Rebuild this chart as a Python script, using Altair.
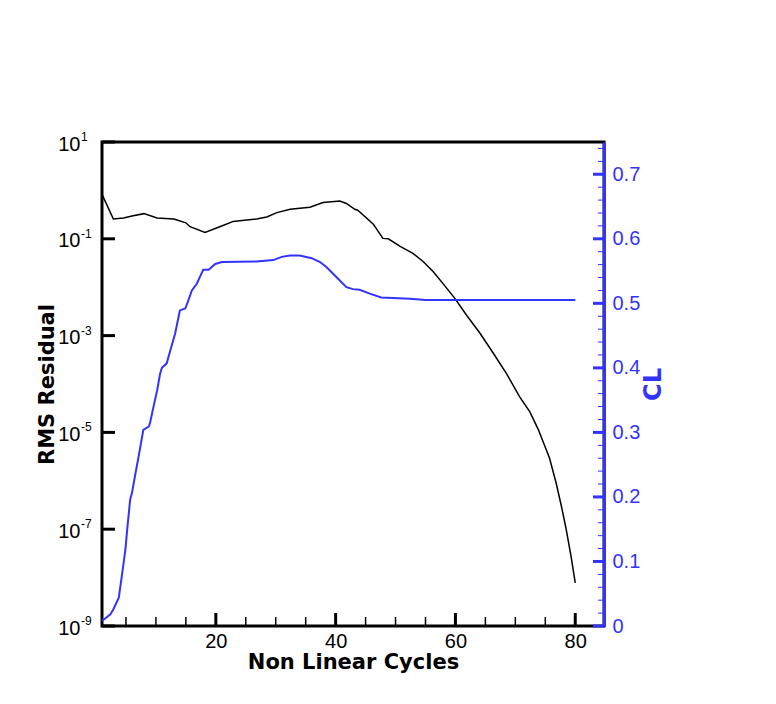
import altair as alt
import pandas as pd

# ---- data ----
cycles_rms = [1, 2.9, 4.6, 6, 8, 10.2, 13, 15, 15.7, 18.2, 21.3, 22.9, 26.8, 28.5, 30.2,
              32.4, 35.7, 37.9, 40.7, 41.8, 43.2, 43.7, 46.3, 47.9, 48.8, 50.7, 52.9, 54.6,
              56.3, 57.9, 59.9, 61.8, 64.1, 66.3, 68.5, 70.7, 72.4, 73.8, 75.7, 76.8, 77.7,
              78.5, 79.3, 80]
rms = [0.83, 0.257, 0.269, 0.295, 0.331, 0.269, 0.257, 0.214, 0.178, 0.135, 0.191, 0.229,
       0.257, 0.282, 0.347, 0.407, 0.447, 0.562, 0.603, 0.537, 0.407, 0.389, 0.200, 0.102,
       0.100, 0.0708, 0.0501, 0.0339, 0.0209, 0.0120, 5.89e-3, 2.69e-3, 1.12e-3, 4.37e-4,
       1.66e-4, 5.50e-5, 2.69e-5, 1.17e-5, 2.95e-6, 9.12e-7, 2.95e-7, 9.77e-8, 2.75e-8, 7.8e-9]

cycles_cl = [1.0, 1.3, 2.4, 2.9, 3.8, 4.3, 4.9, 5.2, 5.7, 6.0, 6.5, 7.1, 7.9, 8.8, 9.0, 9.6,
             10.2, 10.7, 11.0, 11.8, 12.4, 13.2, 14.0, 14.9, 15.2, 16.0, 16.8, 17.7, 17.9,
             18.8, 19.9, 21.0, 26.8, 29.6, 31.0, 32.4, 34.0, 36.0, 37.4, 38.5, 40.2, 41.8,
             42.9, 44.0, 45.7, 47.6, 52.4, 55.0, 80.0]
cl = [0.008, 0.010, 0.018, 0.026, 0.044, 0.077, 0.118, 0.149, 0.196, 0.206, 0.232, 0.262,
      0.304, 0.309, 0.314, 0.340, 0.365, 0.391, 0.400, 0.407, 0.427, 0.453, 0.489, 0.492,
      0.499, 0.520, 0.530, 0.548, 0.552, 0.552, 0.561, 0.564, 0.565, 0.567, 0.572, 0.574,
      0.574, 0.570, 0.564, 0.556, 0.540, 0.525, 0.522, 0.521, 0.515, 0.509, 0.507, 0.505,
      0.505]

x_major = [20, 40, 60, 80]
x_minor = [5, 10, 15, 25, 30, 35, 45, 50, 55, 65, 70, 75]
left_exps = [1, -1, -3, -5, -7, -9]
left_ticks = [10.0 ** e for e in left_exps]
cl_major = [0, 0.1, 0.2, 0.3, 0.4, 0.5, 0.6, 0.7]
cl_minor = [0.02, 0.04, 0.06, 0.08, 0.12, 0.14, 0.16, 0.18, 0.22, 0.24, 0.26, 0.28,
            0.32, 0.34, 0.36, 0.38, 0.42, 0.44, 0.46, 0.48, 0.52, 0.54, 0.56, 0.58,
            0.62, 0.64, 0.66, 0.68, 0.72, 0.74]

W, H = 502, 484
BLUE = "#3333ff"
LABEL_FONT = "Liberation Sans"
TITLE_FONT = "DejaVu Sans"

df_rms = pd.DataFrame({"cycle": cycles_rms, "rms": rms})
df_cl = pd.DataFrame({"cycle": cycles_cl, "cl": cl})
df_exp = pd.DataFrame({"v": left_ticks, "e": [str(e) for e in left_exps]})

xscale = alt.Scale(domain=[1, 84.8], nice=False, zero=False)
yl = alt.Scale(type="log", domain=[1e-9, 10], nice=False)
yr = alt.Scale(domain=[0, 0.75], nice=False, zero=False)

black = alt.Chart(df_rms).mark_line(color="black", strokeWidth=1.5).encode(
    x=alt.X("cycle:Q", scale=xscale, axis=alt.Axis(
        values=x_major, title="Non Linear Cycles", tickSize=0, domain=False, grid=False,
        labelFont=LABEL_FONT, labelFontSize=20, labelColor="black", labelPadding=5,
        labelFlush=False, titleFont=TITLE_FONT, titleFontWeight="bold", titleFontSize=21,
        titleColor="black", titleBaseline="alphabetic", titleY=42)),
    y=alt.Y("rms:Q", scale=yl, axis=alt.Axis(
        orient="left", values=left_ticks, labelExpr="'10'", tickSize=0, domain=False,
        grid=False, labelFont=LABEL_FONT, labelFontSize=20, labelColor="black",
        labelPadding=22, labelFlush=False, labelOverlap=False, labelBaseline="middle",
        labelOffset=2,
        title="RMS Residual", titleFont=TITLE_FONT, titleFontWeight="bold",
        titleFontSize=21, titleColor="black", titleBaseline="alphabetic",
        titleAngle=270, titleX=-49, titleY=H / 2)),
)

exps = alt.Chart(df_exp).mark_text(
    align="left", baseline="alphabetic", font=LABEL_FONT, fontSize=12, color="black", dy=-1
).encode(
    x=alt.value(-21), y=alt.Y("v:Q", scale=yl, axis=None), text="e:N")

blue = alt.Chart(df_cl).mark_line(color=BLUE, strokeWidth=2).encode(
    x=alt.X("cycle:Q", scale=xscale),
    y=alt.Y("cl:Q", scale=yr, axis=alt.Axis(
        orient="right", values=cl_major, format=".1~f", tickSize=0, domain=True,
        domainColor=BLUE, domainWidth=3, grid=False, labelFont=LABEL_FONT,
        labelFontSize=20, labelColor=BLUE, labelPadding=8, labelFlush=False,
        labelOverlap=False, title="CL", titleFont=TITLE_FONT, titleFontWeight="bold",
        titleFontSize=24, titleColor=BLUE, titleBaseline="alphabetic", titleAngle=270,
        titleX=56, titleY=H / 2, zindex=1)),
)

xmaj = alt.Chart(pd.DataFrame({"v": x_major})).mark_rule(color="black", strokeWidth=3).encode(
    x=alt.X("v:Q", scale=xscale), y=alt.value(H), y2=alt.value(H - 13))
xmin = alt.Chart(pd.DataFrame({"v": x_minor})).mark_rule(color="black", strokeWidth=1.5).encode(
    x=alt.X("v:Q", scale=xscale), y=alt.value(H), y2=alt.value(H - 9))
lticks = alt.Chart(pd.DataFrame({"v": left_ticks})).mark_rule(color="black", strokeWidth=3).encode(
    y=alt.Y("v:Q", scale=yl, axis=None), x=alt.value(0), x2=alt.value(13))
rmaj = alt.Chart(pd.DataFrame({"v": cl_major})).mark_rule(color=BLUE, strokeWidth=3).encode(
    y=alt.Y("v:Q", scale=yr, axis=None), x=alt.value(W - 11), x2=alt.value(W))
rmin = alt.Chart(pd.DataFrame({"v": cl_minor})).mark_rule(color=BLUE, strokeWidth=1).encode(
    y=alt.Y("v:Q", scale=yr, axis=None), x=alt.value(W - 6), x2=alt.value(W))

chart = alt.layer(black, blue, xmaj, xmin, lticks, rmaj, rmin, exps).resolve_scale(
    y="independent"
).properties(
    width=W, height=H,
    background="white",
    autosize=alt.AutoSizeParams(type="none"),
    padding={"left": 94, "top": 134, "right": 164, "bottom": 70},
).configure_view(stroke="black", strokeWidth=3)

chart.save("out.html", embed_options={"renderer": "svg", "actions": False})
